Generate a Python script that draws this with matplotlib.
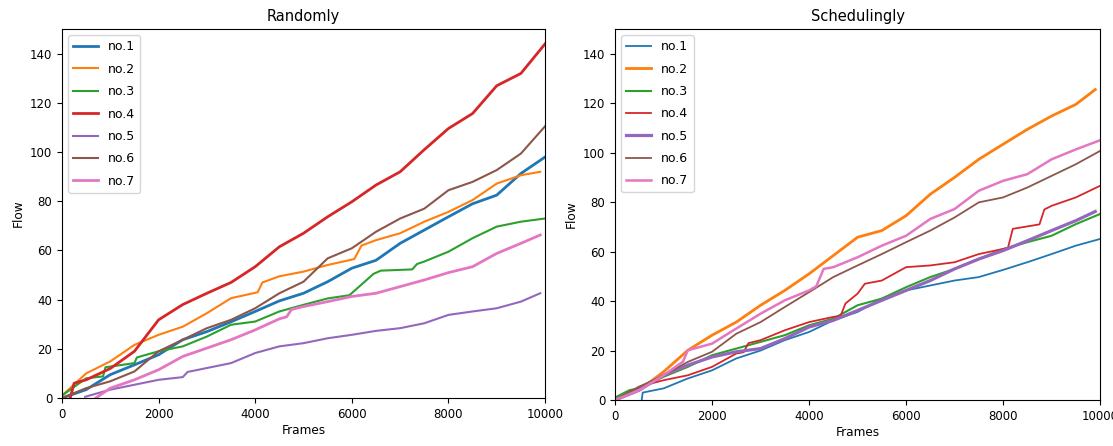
import numpy as np
import matplotlib
matplotlib.use("Agg")
import matplotlib.pyplot as plt

labels = ['no.1', 'no.2', 'no.3', 'no.4', 'no.5', 'no.6', 'no.7']

# ---- Randomly: frames / flow ----
r1_x = [0, 500, 1000, 1500, 2000, 2500, 3000, 3500, 4000, 4500, 5000, 5500, 6000, 6500, 7000, 7500, 8000, 8500, 9000, 9500, 10000]
r1_y = [0, 3.4, 9.5, 13.5, 17.6, 23.7, 27, 31, 35.2, 39.5, 42.6, 47.3, 52.8, 56, 62.9, 68.3, 73.7, 79, 82.5, 91.3, 98]
r2_x = [0, 500, 1000, 1500, 2000, 2500, 3000, 3500, 4050, 4150, 4500, 5000, 5500, 6050, 6200, 6500, 7000, 7500, 8000, 8500, 9000, 9500, 9900]
r2_y = [1, 10, 14.9, 21.6, 25.7, 29, 34.5, 40.6, 43, 47, 49.5, 51.4, 54.1, 56.5, 62, 64.2, 67, 71.7, 75.7, 80.5, 87.2, 90.6, 92]
r3_x = [0, 500, 850, 900, 1500, 1550, 2000, 2500, 3000, 3500, 4000, 4500, 5000, 5500, 5950, 6450, 6600, 7250, 7350, 7500, 8000, 8500, 9000, 9500, 10000]
r3_y = [1, 8, 8.8, 12.5, 14.2, 16.5, 19, 21, 25, 29.8, 31.1, 35.2, 37.9, 40.5, 41.8, 50.5, 51.8, 52.3, 54.5, 55.5, 59.5, 65, 69.7, 71.7, 73]
r4_x = [170, 250, 500, 1000, 1500, 2000, 2500, 3000, 3500, 4000, 4500, 5000, 5500, 6000, 6500, 7000, 7500, 8000, 8500, 9000, 9500, 10000]
r4_y = [0, 6, 7.4, 12, 19, 31.8, 38, 42.6, 47, 53.4, 61.5, 67, 73.7, 79.8, 86.6, 92, 101, 109.6, 115.7, 127, 132, 144]
r5_x = [480, 1000, 1500, 2000, 2500, 2600, 3000, 3500, 4000, 4500, 5000, 5500, 6000, 6500, 7000, 7500, 8000, 8500, 9000, 9500, 9900]
r5_y = [0.5, 3.4, 5.4, 7.4, 8.5, 10.6, 12.2, 14.2, 18.3, 21, 22.3, 24.3, 25.7, 27.3, 28.4, 30.4, 33.8, 35.2, 36.5, 39.2, 42.6]
r6_x = [0, 500, 1000, 1500, 2000, 2500, 3000, 3500, 4000, 4500, 5000, 5500, 6000, 6500, 7000, 7500, 8000, 8500, 9000, 9500, 10000]
r6_y = [0, 4, 6.8, 10.8, 19, 23.7, 28.4, 31.8, 36.5, 42.6, 47.3, 56.8, 60.9, 67.6, 73, 77, 84.5, 87.9, 92.7, 99.4, 110.5]
r7_x = [700, 1000, 1500, 2000, 2500, 3000, 3500, 4000, 4500, 4650, 4750, 5000, 5500, 6000, 6500, 7000, 7500, 8000, 8500, 9000, 9500, 9900]
r7_y = [0, 4, 7.4, 11.5, 16.9, 20.3, 23.7, 27.7, 32.2, 33, 36, 37.2, 39.2, 41.3, 42.6, 45.3, 48, 51, 53.4, 58.8, 62.9, 66.3]

# ---- Schedulingly ----
s1_x = [550, 570, 1000, 1500, 2000, 2500, 3000, 3500, 4000, 4500, 5000, 5500, 6000, 6500, 7000, 7500, 8000, 8500, 9000, 9500, 10000]
s1_y = [0, 3, 4.7, 8.7, 12, 16.8, 20, 24.2, 27.5, 32.2, 35.6, 41, 44.3, 46.3, 48.3, 49.7, 52.6, 55.7, 59, 62.4, 65.1]
s2_x = [0, 500, 1000, 1500, 2000, 2500, 3000, 3500, 4000, 4500, 5000, 5500, 6000, 6500, 7000, 7500, 8000, 8500, 9000, 9500, 9900]
s2_y = [0, 4, 11.4, 20.1, 26.2, 31.5, 38.3, 44.3, 51, 58.4, 65.8, 68.5, 74.5, 83.2, 90, 97.3, 103.4, 109.4, 114.8, 119.5, 125.5]
s3_x = [0, 300, 500, 1000, 1500, 2000, 2500, 3000, 3500, 4000, 4500, 5000, 5500, 6000, 6500, 7000, 7500, 8000, 8500, 9000, 9500, 10000]
s3_y = [1, 4, 4.7, 9.4, 13.4, 18.1, 20.8, 23.5, 26.2, 30.2, 32.9, 38.3, 41, 45.6, 49.7, 53, 57, 61, 63.8, 66.4, 71.1, 75.2]
s4_x = [0, 500, 1000, 1500, 2000, 2500, 2650, 2750, 3000, 3500, 4000, 4500, 4650, 4750, 5000, 5150, 5500, 6000, 6500, 7000, 7500, 8100, 8200, 8600, 8750, 8850, 9000, 9500, 10000]
s4_y = [0, 5.4, 8, 10, 13.4, 18.8, 19.3, 23, 24.2, 28.2, 31.5, 33.6, 34, 39, 43, 47, 48.3, 53.7, 54.4, 55.7, 59, 61.5, 69.2, 70.5, 71, 77, 78.5, 81.9, 86.6]
s5_x = [0, 500, 1000, 1500, 2000, 2500, 3000, 3500, 4000, 4500, 5000, 5500, 6000, 6500, 7000, 7500, 8000, 8500, 9000, 9500, 9900]
s5_y = [0, 4, 10, 14.1, 17.4, 19.5, 20.8, 24.8, 29.5, 32.2, 36.2, 40.3, 44.3, 48.3, 53, 57, 60.4, 64.4, 68.5, 72.5, 76.2]
s6_x = [0, 500, 1000, 1500, 2000, 2500, 3000, 3500, 4000, 4500, 5000, 5500, 6000, 6500, 7000, 7500, 8000, 8500, 9000, 9500, 10000]
s6_y = [0, 5.4, 10, 15.4, 19.5, 26.8, 31.5, 37.6, 43.6, 49.7, 54.4, 59, 63.8, 68.5, 73.8, 79.9, 81.9, 85.9, 90.6, 95.3, 100.7]
s7_x = [0, 500, 1000, 1400, 1500, 2000, 2500, 3000, 3500, 4000, 4150, 4300, 4500, 5000, 5500, 6000, 6500, 7000, 7500, 8000, 8500, 9000, 9500, 10000]
s7_y = [0, 4, 10, 15.5, 20.1, 22.8, 28.9, 34.9, 40.3, 44.3, 46, 53, 53.7, 57.7, 62.4, 66.4, 73.2, 77.2, 84.6, 88.6, 91.3, 97.3, 101.3, 105]

rand = [(r1_x, r1_y), (r2_x, r2_y), (r3_x, r3_y), (r4_x, r4_y), (r5_x, r5_y), (r6_x, r6_y), (r7_x, r7_y)]
sched = [(s1_x, s1_y), (s2_x, s2_y), (s3_x, s3_y), (s4_x, s4_y), (s5_x, s5_y), (s6_x, s6_y), (s7_x, s7_y)]
rand_lw = [2.0, 1.5, 1.5, 2.0, 1.5, 1.5, 2.0]
sched_lw = [1.3, 2.0, 1.5, 1.3, 2.3, 1.3, 1.8]

fig = plt.figure(figsize=(11.13, 4.46), dpi=100)
ax1 = fig.add_axes([0.0557, 0.1076, 0.434, 0.827])
ax2 = fig.add_axes([0.5526, 0.1031, 0.4358, 0.832])

for ax, series, lws, title in [(ax1, rand, rand_lw, 'Randomly'),
                               (ax2, sched, sched_lw, 'Schedulingly')]:
    for i, (xs, ys) in enumerate(series):
        ax.plot(xs, ys, color='C%d' % i, lw=lws[i], label=labels[i])
    ax.set_xlim(0, 10000)
    ax.set_ylim(0, 150)
    ax.set_xticks([0, 2000, 4000, 6000, 8000, 10000])
    ax.set_yticks(range(0, 141, 20))
    ax.tick_params(labelsize=8.5)
    ax.set_xlabel('Frames', fontsize=8.7, labelpad=2)
    ax.set_ylabel('Flow', fontsize=8.7)
    ax.set_title(title, fontsize=10.5)
    ax.legend(loc='upper left', fontsize=9, labelspacing=0.75)

fig.savefig('out.png', dpi=100)
